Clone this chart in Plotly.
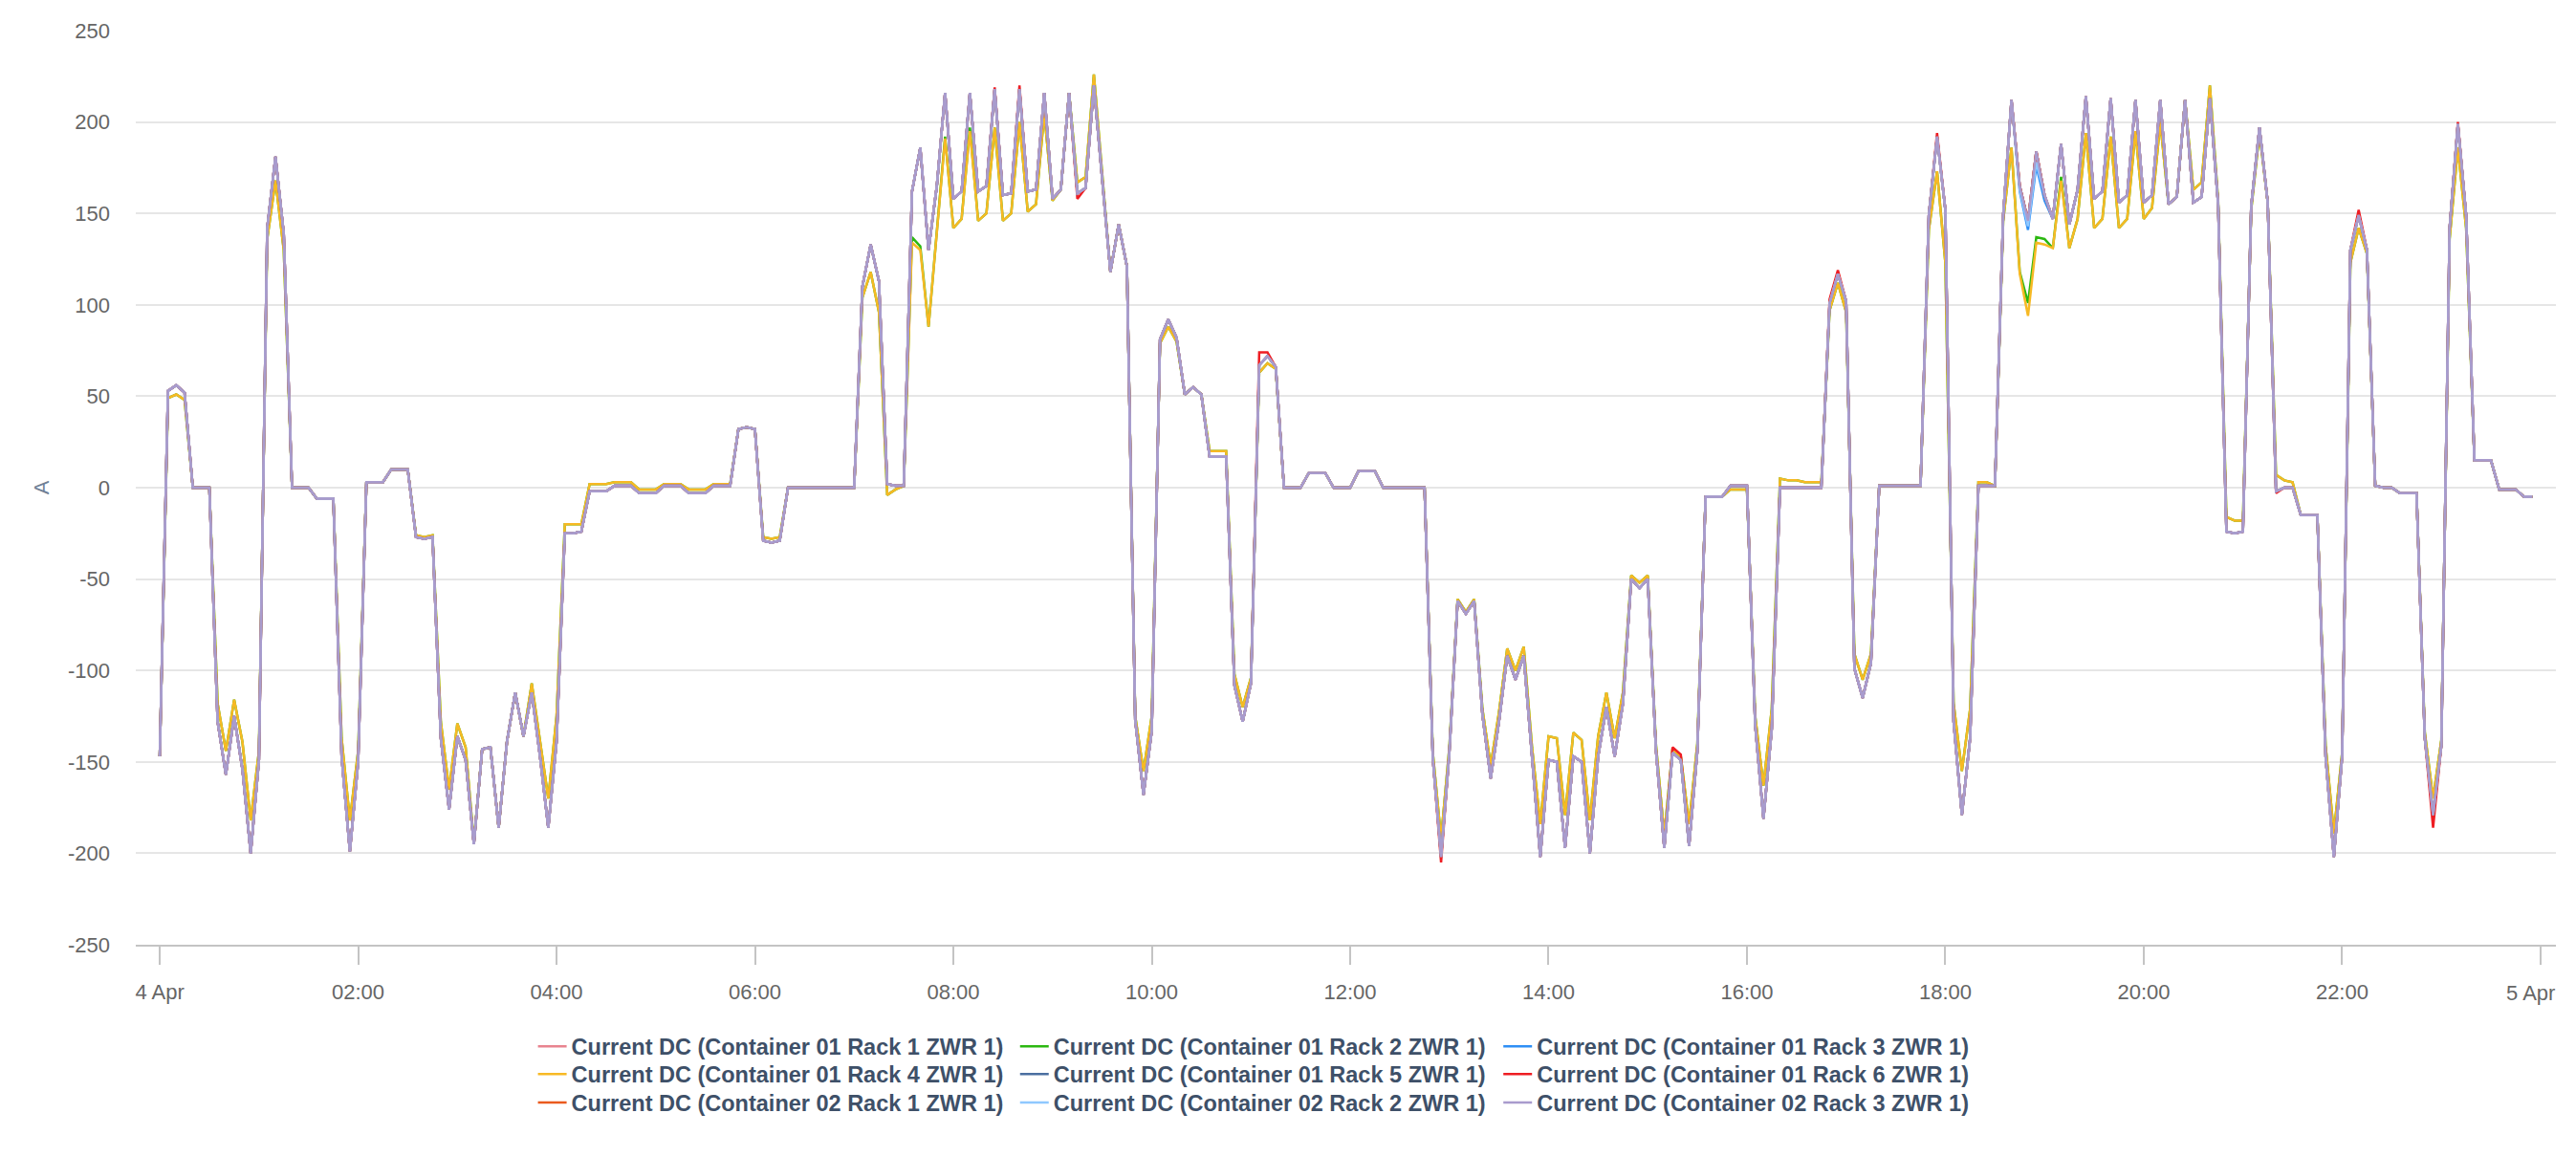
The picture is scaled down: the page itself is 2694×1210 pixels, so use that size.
import pandas as pd
import plotly.graph_objects as go

# 5-minute samples for 4 Apr, one row per two hours
cur_main = [
    -147, 53, 56, 52, 0, 0, 0, -128, -157, -125, -154, -200, -149, 142, 181, 139, 0, 0, 0, -6, -6, -6, -147, -199,
    -150, 3, 3, 3, 10, 10, 10, -27, -28, -27, -137, -176, -136, -149, -195, -143, -142, -186, -139, -112, -136, -112, -147, -186,
    -139, -25, -25, -24, -2, -2, -2, 1, 1, 1, -3, -3, -3, 1, 1, 1, -3, -3, -3, 1, 1, 1, 32, 33,
    32, -29, -30, -29, 0, 0, 0, 0, 0, 0, 0, 0, 0, 110, 133, 113, 2, 1, 1, 162, 186, 130, 165, 216,
    158, 162, 216, 162, 165, 218, 160, 161, 218, 162, 163, 216, 158, 163, 216, 161, 164, 220, 170, 118, 144, 121, -127, -168,
    -133, 81, 92, 82, 51, 55, 51, 17, 17, 17, -108, -128, -107, 67, 72, 66, 0, 0, 0, 8, 8, 8, 0, 0,
    0, 9, 9, 9, 0, 0, 0, 0, 0, 0, -148, -202, -145, -62, -69, -62, -124, -159, -128, -92, -105, -92, -147, -202,
    -149, -150, -197, -147, -150, -200, -147, -120, -147, -118, -50, -55, -50, -144, -197, -145, -149, -196, -144, -5, -5, -5, 1, 1,
    1, -130, -181, -132, 0, 0, 0, 0, 0, 0, 101, 117, 102, -99, -115, -96, 1, 1, 1, 1, 1, 1, 149, 192,
    152, -128, -179, -137, 1, 1, 1, 149, 212, 165, 146, 184, 160, 147, 188, 144, 163, 214, 158, 162, 213, 156, 160, 212,
    156, 160, 212, 155, 159, 212, 156, 159, 213, 155, -24, -25, -24, 154, 197, 156, -2, 0, 0, -15, -15, -15, -147, -202,
    -147, 130, 149, 130, 1, 0, 0, -3, -3, -3, -137, -179, -141, 142, 199, 149, 15, 15, 15, -1, -1, -1, -5, -5,
]

# rack 4 (and mostly rack 2) sits a bit closer to zero
cur_rack4 = [
    -147, 49, 51, 48, 0, 0, 0, -118, -144, -116, -139, -182, -144, 136, 168, 130, 0, 0, 0, -6, -6, -6, -137, -182,
    -144, 3, 3, 3, 10, 10, 10, -26, -27, -26, -128, -165, -129, -142, -194, -143, -142, -186, -139, -112, -136, -107, -139, -170,
    -125, -20, -20, -20, 2, 2, 2, 3, 3, 3, -1, -1, -1, 2, 2, 2, -1, -1, -1, 2, 2, 2, 32, 33,
    32, -27, -28, -27, 0, 0, 0, 0, 0, 0, 0, 0, 0, 104, 118, 96, -4, -1, 1, 134, 130, 88, 139, 191,
    142, 147, 195, 146, 150, 197, 146, 150, 200, 151, 155, 205, 157, 163, 216, 167, 170, 226, 172, 118, 144, 121, -125, -155,
    -125, 79, 88, 80, 51, 55, 51, 20, 20, 20, -102, -120, -104, 63, 68, 65, 0, 0, 0, 8, 8, 8, 0, 0,
    0, 9, 9, 9, 0, 0, 0, 0, 0, 0, -145, -192, -142, -61, -68, -61, -121, -152, -123, -88, -100, -87, -142, -184,
    -136, -137, -179, -134, -138, -182, -136, -112, -137, -112, -48, -52, -48, -141, -190, -143, -147, -184, -140, -5, -5, -5, -1, -1,
    -1, -125, -163, -121, 5, 4, 4, 3, 3, 3, 97, 112, 96, -91, -105, -91, 1, 1, 1, 1, 1, 1, 141, 173,
    123, -118, -155, -121, 3, 3, 1, 146, 186, 117, 94, 134, 133, 131, 168, 131, 147, 194, 142, 147, 192, 142, 147, 195,
    147, 153, 200, 155, 159, 212, 163, 167, 220, 157, -16, -18, -18, 152, 194, 156, 7, 4, 3, -15, -15, -15, -141, -189,
    -145, 123, 142, 128, 1, 0, 0, -3, -3, -3, -134, -170, -138, 136, 186, 142, 15, 15, 15, -1, -1, -1, -5, -5,
]

# spots where single racks leave the bundle (sample index -> value)
fix_rack2 = {91: 137, 92: 132, 95: 192, 98: 197, 225: 118, 226: 101, 227: 137, 228: 136, 230: 170, 250: -16}
fix_rack3 = {225: 162, 226: 141, 227: 176, 228: 157}
fix_rack6 = {101: 219, 104: 220, 111: 158, 133: 74, 134: 74, 155: -205, 183: -142, 184: -146,
             202: 103, 203: 119, 215: 194, 256: -3, 266: 152, 275: -186, 278: 200}
fix_c2_rack2 = {225: 163, 226: 143, 227: 178}

names = [
    "Current DC (Container 01 Rack 1 ZWR 1)",
    "Current DC (Container 01 Rack 2 ZWR 1)",
    "Current DC (Container 01 Rack 3 ZWR 1)",
    "Current DC (Container 01 Rack 4 ZWR 1)",
    "Current DC (Container 01 Rack 5 ZWR 1)",
    "Current DC (Container 01 Rack 6 ZWR 1)",
    "Current DC (Container 02 Rack 1 ZWR 1)",
    "Current DC (Container 02 Rack 2 ZWR 1)",
    "Current DC (Container 02 Rack 3 ZWR 1)",
]
colors = ["#e8848f", "#2cb811", "#2f8ff5", "#f7b924", "#4b6fa0",
          "#ee1d23", "#ea5a1e", "#8fc8ff", "#a99bcd"]

tick_vals = pd.date_range("2024-04-04", "2024-04-05", freq="2h")
tick_text = ["4 Apr", "02:00", "04:00", "06:00", "08:00", "10:00", "12:00",
             "14:00", "16:00", "18:00", "20:00", "22:00", ""]
y_ticks = [-250, -200, -150, -100, -50, 0, 50, 100, 150, 200, 250]

times = pd.date_range("2024-04-04", periods=len(cur_main), freq="5min")


def with_fixes(values, fixes):
    out = list(values)
    for k, v in fixes.items():
        out[k] = v
    return out


series = [
    cur_main,
    with_fixes(cur_rack4, fix_rack2),
    with_fixes(cur_main, fix_rack3),
    cur_rack4,
    cur_main,
    with_fixes(cur_main, fix_rack6),
    cur_main,
    with_fixes(cur_main, fix_c2_rack2),
    cur_main,
]

FONT = "Liberation Sans, Arial, sans-serif"

# one small legend per entry so the 3x3 grid can be placed like the source
legend_cols = [0.1642, 0.3634, 0.5631]
legend_rows = [-0.1114, -0.1417, -0.1727]

fig = go.Figure()
legends = {}
for i, (name, ys) in enumerate(zip(names, series)):
    lid = "legend" if i == 0 else "legend%d" % (i + 1)
    fig.add_trace(go.Scatter(
        x=times, y=ys, name=name, mode="lines",
        line=dict(color=colors[i], width=2.5),
        legend=lid,
    ))
    legends[lid] = dict(
        x=legend_cols[i % 3], y=legend_rows[i // 3],
        xanchor="left", yanchor="middle", orientation="v",
        font=dict(family=FONT, size=23.5, color="#3e5068", weight="bold"),
        bgcolor="rgba(0,0,0,0)", itemwidth=30,
    )

# page body keeps an 8px margin, so the figure is 8px smaller than the window
fig.update_layout(
    width=2686, height=1202,
    margin=dict(l=134, r=21, t=13, b=222),
    paper_bgcolor="white", plot_bgcolor="white",
    font=dict(family=FONT, size=22, color="#666666"),
    showlegend=True,
    xaxis=dict(
        range=["2024-04-03 23:45:30", "2024-04-05 00:09:18"],
        tickmode="array", tickvals=tick_vals, ticktext=tick_text,
        showgrid=False, zeroline=False,
        showline=True, linecolor="#c4c4c4", linewidth=2,
        ticks="outside", ticklen=19, tickwidth=2, tickcolor="#c4c4c4",
        ticklabelstandoff=10,
        tickfont=dict(size=22, color="#666666"),
    ),
    yaxis=dict(
        range=[-250, 250],
        tickmode="array", tickvals=y_ticks, ticktext=[str(v) for v in y_ticks],
        showgrid=True, gridcolor="#e6e6e6", gridwidth=2,
        zeroline=False, showline=False, ticks="",
        ticklabelstandoff=26,
        tickfont=dict(size=22, color="#666666"),
        title=dict(text="A", standoff=13, font=dict(size=22, color="#6f7f96")),
    ),
    **legends,
)

# last date label sits inside the axis end, as in the source
fig.add_annotation(
    x=tick_vals[-1], y=0, xref="x", yref="paper",
    text="5 Apr", showarrow=False, xanchor="right", yanchor="middle",
    xshift=17, yshift=-50, font=dict(family=FONT, size=22, color="#666666"),
)

# thin chart frame line at the right page edge
fig.add_shape(type="line", xref="paper", yref="paper",
              x0=1.0075, x1=1.0075, y0=-0.229, y1=1.021,
              line=dict(color="#e6e6e6", width=2))

fig.write_html("out.html")
